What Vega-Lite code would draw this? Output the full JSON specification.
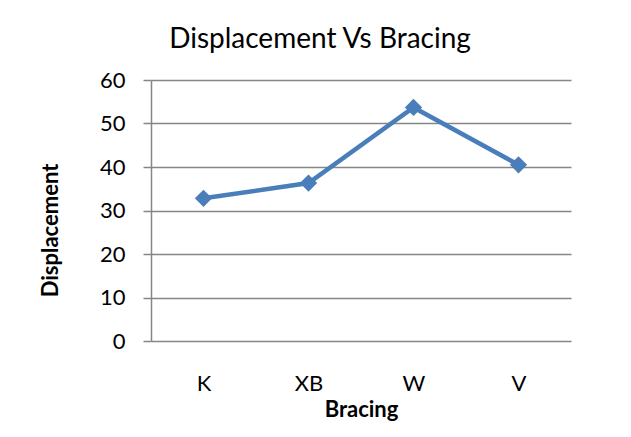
{
  "$schema": "https://vega.github.io/schema/vega-lite/v6.json",
  "width": 420,
  "height": 261,
  "autosize": {"type": "none"},
  "padding": {"left": 151, "top": 80, "right": 60, "bottom": 96},
  "background": "white",
  "config": {
    "view": {"stroke": null},
    "font": "Lato"
  },
  "title": {
    "text": "Displacement Vs Bracing",
    "font": "Lato",
    "fontSize": 28,
    "fontWeight": "normal",
    "color": "#000000",
    "anchor": "middle",
    "frame": "group",
    "baseline": "alphabetic",
    "offset": 28,
    "dx": -41,
    "dy": 35
  },
  "data": {
    "values": [
      {"Bracing": "K", "Displacement": 32.8},
      {"Bracing": "XB", "Displacement": 36.3},
      {"Bracing": "W", "Displacement": 53.7},
      {"Bracing": "V", "Displacement": 40.5}
    ]
  },
  "encoding": {
    "x": {
      "field": "Bracing",
      "type": "nominal",
      "sort": null,
      "scale": {"padding": 0.5},
      "axis": {
        "labelAngle": 0,
        "labelFont": "Lato",
        "labelFontSize": 22,
        "labelColor": "#000000",
        "labelPadding": 32,
        "ticks": false,
        "domain": false,
        "grid": false,
        "title": "Bracing",
        "titleFont": "Lato",
        "titleFontSize": 22,
        "titleFontWeight": "bold",
        "titleColor": "#000000",
        "titleBaseline": "top",
        "titleY": 58
      }
    },
    "y": {
      "field": "Displacement",
      "type": "quantitative",
      "scale": {"domain": [0, 60], "nice": false, "zero": true},
      "axis": {
        "values": [0, 10, 20, 30, 40, 50, 60],
        "labelFont": "Lato",
        "labelFontSize": 22,
        "labelColor": "#000000",
        "labelPadding": 18,
        "tickSize": 8,
        "tickColor": "#868686",
        "tickWidth": 1.5,
        "domainColor": "#868686",
        "domainWidth": 1.5,
        "grid": true,
        "gridColor": "#868686",
        "gridWidth": 1.5,
        "title": "Displacement",
        "titleFont": "Lato",
        "titleFontSize": 22,
        "titleFontWeight": "bold",
        "titleColor": "#000000",
        "titleAngle": -90,
        "titleAlign": "center",
        "titleBaseline": "middle",
        "titleX": -101,
        "titleY": 150
      }
    }
  },
  "layer": [
    {
      "mark": {"type": "line", "color": "#4A7EBB", "strokeWidth": 4.5}
    },
    {
      "mark": {"type": "point", "shape": "diamond", "filled": true, "opacity": 1, "color": "#4A7EBB", "size": 300}
    }
  ]
}
